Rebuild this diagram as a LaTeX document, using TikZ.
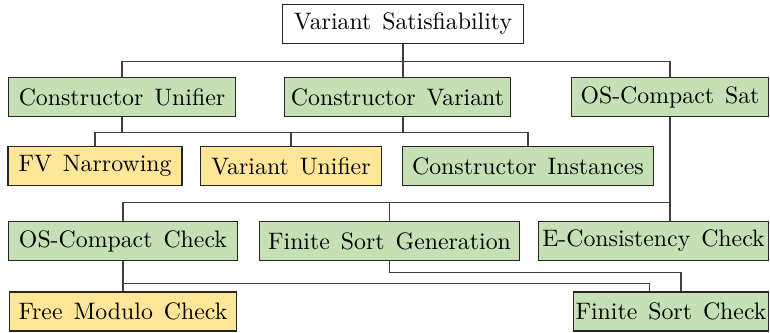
\documentclass[tikz,border=0pt]{standalone}
\usepackage{xcolor}
\usepackage{tikz}
\usetikzlibrary{positioning}
\definecolor{toolgreen}{HTML}{C5E0B4}
\definecolor{toolyellow}{HTML}{FFE699}
\definecolor{edgegray}{HTML}{404040}
\newcommand{\wordgap}{\spaceskip=4.6pt plus 1pt\relax}
\tikzset{
  modbox/.style={draw=black!85,line width=0.5pt,align=center,inner sep=0pt,minimum height=16.4pt,font=\wordgap},
  donebox/.style={modbox,fill=toolgreen},
  extbox/.style={modbox,fill=toolyellow},
  link/.style={edgegray,line width=0.5pt}
}

\begin{document}
\begin{tikzpicture}[x=0.42pt,y=-0.42pt]
\useasboundingbox (0,0) rectangle (770,332);
% top level
\node[modbox,minimum width=101pt] (vs) at (403,24) {Variant Satisfiability};
% first row
\node[donebox,minimum width=95.5pt] (cu) at (122,97) {Constructor Unifier};
\node[donebox,minimum width=95pt] (cv) at (397.5,97) {Constructor Variant};
\node[donebox,minimum width=83pt] (oss) at (670,97) {OS-Compact Sat};
% second row
\node[extbox,minimum width=73pt] (fv) at (95,166) {FV Narrowing};
\node[extbox,minimum width=76pt] (vu) at (291,166) {Variant Unifier};
\node[donebox,minimum width=105.5pt] (ci) at (528,166) {Constructor Instances};
% third row
\node[donebox,minimum width=96.5pt] (occ) at (123,241) {OS-Compact Check};
\node[donebox,minimum width=109.5pt] (fsg) at (389.5,241) {Finite Sort Generation};
\node[donebox,minimum width=96.5pt] (ec) at (653.5,241) {E-Consistency Check};
% fourth row
\node[extbox,minimum width=95.5pt] (fm) at (123,311.5) {Free Modulo Check};
\node[donebox,minimum width=82pt] (fsc) at (671,311.5) {Finite Sort Check};

% edges
\draw[link] (vs.south) -- ++(0,17) -| (cu.north);
\draw[link] (vs.south) -- (vs.south |- cv.north);
\draw[link] (vs.south) -- ++(0,17) -| (oss.north);
\draw[link] (cu.south) -- ++(0,15) -| (fv.north);
\draw[link] (cu.south) -- ++(0,15) -| (vu.north);
\draw[link] (cv.south -| vs.south) -- ++(0,15) -| (vu.north);
\draw[link] (cv.south -| vs.south) -- ++(0,15) -| (ci.north);
\draw[link] (oss.south) -- (oss.south |- ec.north);
\draw[link] (oss.south) -- ++(0,85) -| (occ.north);
\draw[link] (oss.south) -- ++(0,85) -| (fsg.north);
\draw[link] (occ.south) -- (fm.north);
\draw[link] (occ.south) -- ++(0,22) -| ([xshift=-9.2pt]fsc.north);
\draw[link] (fsg.south) -- ++(0,11) -| ([xshift=4.2pt]fsc.north);
\end{tikzpicture}
\end{document}
